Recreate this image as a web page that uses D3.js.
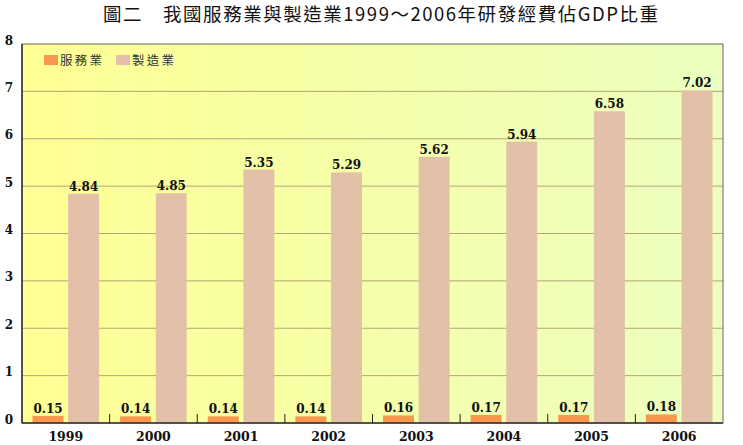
<!DOCTYPE html>
<html>
<head>
<meta charset="utf-8">
<script src="https://cdn.jsdelivr.net/npm/d3@7"></script>
<style>
  body { margin: 0; background: #fff; }
</style>
</head>
<body>
<div id="canvas"></div>
<script>
const years = ["1999", "2000", "2001", "2002", "2003", "2004", "2005", "2006"];
const seriesNames = ["服務業", "製造業"];
const services = [0.15, 0.14, 0.14, 0.14, 0.16, 0.17, 0.17, 0.18];
const manufacturing = [4.84, 4.85, 5.35, 5.29, 5.62, 5.94, 6.58, 7.02];
const yTicks = [0, 1, 2, 3, 4, 5, 6, 7, 8];

const colors = ["#f9974f", "#e2c1a8"];

const width = 743;
const height = 445;
const margin = { top: 44, left: 22, bottom: 22, right: 20 };
const iwidth = width - margin.left - margin.right;
const iheight = height - margin.top - margin.bottom;

const svg = d3.select("#canvas").append("svg")
    .attr("width", width)
    .attr("height", height);

// background gradient of the plot area
const grad = svg.append("defs").append("linearGradient")
    .attr("id", "bg")
    .attr("x1", "0%").attr("x2", "100%").attr("y1", "0%").attr("y2", "0%");
grad.append("stop").attr("offset", "0%").attr("stop-color", "#ffff94");
grad.append("stop").attr("offset", "100%").attr("stop-color", "#ecffc0");

// title
svg.append("text")
    .attr("x", 103)
    .attr("y", 21)
    .attr("textLength", 555)
    .attr("lengthAdjust", "spacing")
    .style("font-family", "'Noto Sans CJK TC', sans-serif")
    .style("font-size", "18.5px")
    .style("fill", "#111")
    .text("圖二　我國服務業與製造業1999～2006年研發經費佔GDP比重");

const g = svg.append("g").attr("transform", `translate(${margin.left},${margin.top})`);

const x = d3.scaleBand()
    .domain(years)
    .range([0, iwidth])
    .padding(0);

const xs = d3.scaleBand()
    .domain(seriesNames)
    .range([10.5, x.bandwidth() - 10.5])
    .paddingInner(0.13)
    .paddingOuter(0);

const y = d3.scaleLinear()
    .domain([0, 8])
    .range([iheight, 0]);

g.append("rect")
    .attr("width", iwidth)
    .attr("height", iheight)
    .style("fill", "url(#bg)");

// gridlines
g.selectAll(".grid").data(yTicks.filter(d => d > 0 && d < 8))
    .enter().append("line")
    .attr("x1", 0).attr("x2", iwidth)
    .attr("y1", d => y(d)).attr("y2", d => y(d))
    .style("stroke", "#b2a676")
    .style("stroke-width", 1);

const rows = years.map((yr, i) => ({ year: yr, values: [services[i], manufacturing[i]] }));

const groups = g.selectAll(".yr").data(rows)
    .enter().append("g")
    .attr("transform", d => `translate(${x(d.year)},0)`);

groups.selectAll("rect").data(d => d.values.map((v, j) => ({ name: seriesNames[j], v: v, j: j })))
    .enter().append("rect")
    .attr("x", d => xs(d.name))
    .attr("y", d => y(d.v))
    .attr("width", xs.bandwidth())
    .attr("height", d => iheight - y(d.v))
    .style("fill", d => colors[d.j]);

groups.selectAll("text").data(d => d.values.map((v, j) => ({ name: seriesNames[j], v: v })))
    .enter().append("text")
    .attr("x", d => xs(d.name) + xs.bandwidth() / 2)
    .attr("y", d => y(d.v) - 3)
    .attr("text-anchor", "middle")
    .style("font-family", "'DejaVu Serif', serif")
    .style("font-weight", "bold")
    .style("font-size", "12px")
    .style("fill", "#111")
    .text(d => d.v.toFixed(2));

// frame
g.append("rect")
    .attr("width", iwidth)
    .attr("height", iheight)
    .style("fill", "none")
    .style("stroke", "#666")
    .style("stroke-width", 1);

g.append("line")
    .attr("x1", 0).attr("x2", 0).attr("y1", 0).attr("y2", iheight)
    .style("stroke", "#333").style("stroke-width", 1.5);
g.append("line")
    .attr("x1", 0).attr("x2", iwidth).attr("y1", iheight).attr("y2", iheight)
    .style("stroke", "#333").style("stroke-width", 1.5);

// category separator ticks
g.selectAll(".sep").data(years.slice(1))
    .enter().append("line")
    .attr("x1", d => x(d)).attr("x2", d => x(d))
    .attr("y1", iheight - 9).attr("y2", iheight)
    .style("stroke", "#222").style("stroke-width", 1);

// y tick labels
g.selectAll(".ytick").data(yTicks)
    .enter().append("text")
    .attr("x", -13)
    .attr("y", d => y(d) - 3)
    .attr("dominant-baseline", "middle")
    .attr("text-anchor", "middle")
    .style("font-family", "'DejaVu Serif', serif")
    .style("font-weight", "bold")
    .style("font-size", "12px")
    .style("fill", "#111")
    .text(d => d);

// x labels
g.selectAll(".xtick").data(years)
    .enter().append("text")
    .attr("x", d => x(d) + x.bandwidth() / 2)
    .attr("y", iheight + 18)
    .attr("text-anchor", "middle")
    .style("font-family", "'DejaVu Serif', serif")
    .style("font-weight", "bold")
    .style("font-size", "12.5px")
    .style("fill", "#111")
    .text(d => d);

// legend
const legend = svg.append("g");
const legendX = [44, 116];
seriesNames.forEach((n, i) => {
    legend.append("rect")
        .attr("x", legendX[i]).attr("y", 55)
        .attr("width", 14).attr("height", 10)
        .style("fill", colors[i]);
    legend.append("text")
        .attr("x", legendX[i] + 16).attr("y", 64.5)
        .attr("textLength", 42)
        .attr("lengthAdjust", "spacing")
        .style("font-family", "'Noto Sans CJK TC', sans-serif")
        .style("font-size", "12.5px")
        .style("fill", "#333")
        .text(n);
});
</script>
</body>
</html>
